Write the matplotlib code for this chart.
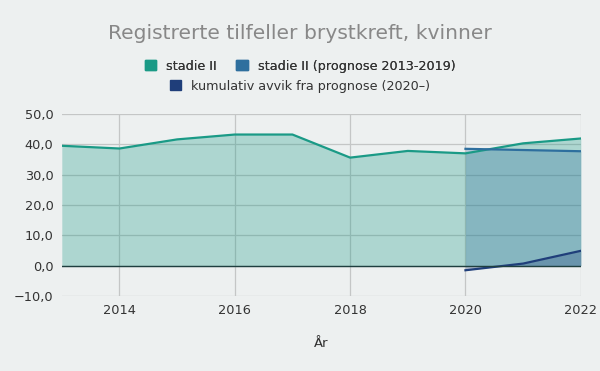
import matplotlib.pyplot as plt
from matplotlib.patches import Patch
from matplotlib.ticker import FuncFormatter

years = [2013, 2014, 2015, 2016, 2017, 2018, 2019, 2020, 2021, 2022]
stadie2 = [39.5, 38.6, 41.6, 43.2, 43.2, 35.6, 37.8, 37.0, 40.3, 41.9]

prog_years = [2020, 2021, 2022]
prognose = [38.5, 38.1, 37.7]
avvik = [-1.5, 0.7, 4.9]

c_st = "#1a9a86"
c_prog = "#2e6f9e"
c_avvik = "#1f3e7a"
bg = "#edf0f0"

fig = plt.figure(figsize=(6, 3.71), dpi=100, facecolor=bg)
ax = fig.add_axes([0.103, 0.202, 0.865, 0.491], facecolor=bg)

ax.fill_between(years, 0, stadie2, color=c_st, alpha=0.3, lw=0)
ax.plot(years, stadie2, color=c_st, lw=1.6)
ax.fill_between(prog_years, 0, prognose, color=c_prog, alpha=0.3, lw=0)
ax.plot(prog_years, prognose, color=c_prog, lw=1.6)
ax.fill_between(prog_years, 0, avvik, color=c_avvik, alpha=0.28, lw=0)
ax.plot(prog_years, avvik, color=c_avvik, lw=1.6)
ax.axhline(0, color="#1f3f3f", lw=1)

ax.set_xlim(2013, 2022)
ax.set_ylim(-10, 50)
ax.set_xticks([2014, 2016, 2018, 2020, 2022])
ax.set_yticks(range(-10, 51, 10))
ax.yaxis.set_major_formatter(FuncFormatter(lambda v, p: f"{v:.1f}".replace(".", ",").replace("-", "\u2212")))
ax.grid(True, color="#c4c6c6", lw=0.9)
ax.set_axisbelow(True)
for s in ax.spines.values():
    s.set_visible(False)
ax.tick_params(length=0, labelsize=9.3, colors="#333333")
ax.tick_params(axis="x", pad=6)
ax.tick_params(axis="y", pad=6)
ax.set_xlabel("År", fontsize=9.5, color="#333333", labelpad=14)

fig.text(0.5, 0.91, "Registrerte tilfeller brystkreft, kvinner", ha="center", va="center",
         fontsize=14.6, color="#888888")

h1 = [Patch(color=c_st), Patch(color=c_prog)]
leg1 = fig.legend(h1, ["stadie II", "stadie II (prognose 2013-2019)"], loc="center",
                  bbox_to_anchor=(0.5, 0.822), ncol=2, frameon=False, fontsize=9.2,
                  handlelength=0.9, handleheight=0.9, handletextpad=0.8, columnspacing=1.5,
                  labelcolor="#333333")
fig.add_artist(leg1)
fig.legend([Patch(color=c_avvik)], ["kumulativ avvik fra prognose (2020\u2013)"], loc="center",
           bbox_to_anchor=(0.5, 0.768), frameon=False, fontsize=9.2,
           handlelength=0.9, handleheight=0.9, handletextpad=0.8, labelcolor="#333333")

fig.savefig("out.png", dpi=100, facecolor=bg)
